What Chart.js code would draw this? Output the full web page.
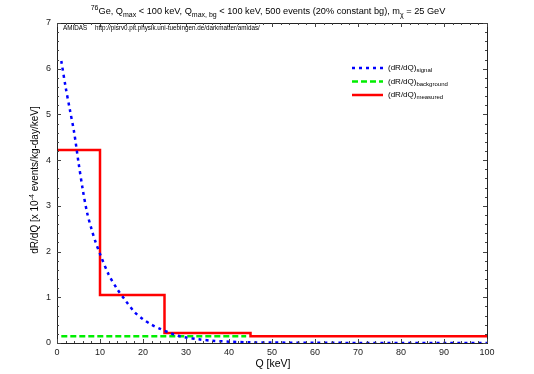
<!DOCTYPE html>
<html>
<head>
<meta charset="utf-8">
<script src="https://cdn.jsdelivr.net/npm/chart.js@4"></script>
<style>
  html, body { margin: 0; padding: 0; background: #fff; }
  canvas { display: block; }
</style>
</head>
<body>
<canvas id="chart" width="534" height="374"></canvas>
<script>
// signal curve (Q in keV, dR/dQ in 1e-4 events/kg-day/keV)
const signalQ = [1, 2, 3, 4, 5, 6, 7, 8, 9, 10, 12, 14, 16, 18, 20, 22, 24, 26, 28, 30, 33, 36, 40, 45, 50, 60, 70, 80, 90, 100];
const signalR = [6.17, 5.6, 5.1, 4.6, 3.95, 3.35, 2.85, 2.5, 2.2, 1.95, 1.5, 1.18, 0.92, 0.68, 0.52, 0.4, 0.31, 0.23, 0.16, 0.12, 0.08, 0.05, 0.03, 0.015, 0.01, 0.005, 0.002, 0.001, 0.0, 0.0];

const backgroundQ = [1, 44];
const backgroundR = [0.15, 0.15];

// measured histogram: bin edges and bin values
const binEdges = [0, 10, 25, 45, 100];
const binValues = [4.22, 1.05, 0.22, 0.15];

const xTicks = [0, 10, 20, 30, 40, 50, 60, 70, 80, 90, 100];
const yTicks = [0, 1, 2, 3, 4, 5, 6, 7];

const FONT = '"Liberation Sans", Arial, Helvetica, sans-serif';

const toPoints = (xs, ys) => xs.map((x, i) => ({ x, y: ys[i] }));

const measuredPoints = binEdges.map((e, i) => ({ x: e, y: i < binValues.length ? binValues[i] : binValues[binValues.length - 1] }));

// draw text with sub/superscripts: parts = [[text, 'n'|'sub'|'sup'], ...]
const drawRich = (ctx, parts, x, y, size, align) => {
  const small = Math.round(size * 0.72);
  let total = 0;
  parts.forEach(([t, k]) => {
    ctx.font = `${k === 'n' ? size : small}px ${FONT}`;
    total += ctx.measureText(t).width;
  });
  let cx = align === 'center' ? x - total / 2 : x;
  ctx.textAlign = 'left';
  ctx.textBaseline = 'alphabetic';
  parts.forEach(([t, k]) => {
    ctx.font = `${k === 'n' ? size : small}px ${FONT}`;
    let dy = 0;
    if (k === 'sub') dy = size * 0.3;
    if (k === 'sup') dy = -size * 0.4;
    ctx.fillText(t, cx, y + dy);
    cx += ctx.measureText(t).width;
  });
};

const framePlugin = {
  id: 'frame',
  afterDraw(chart) {
    const { ctx, chartArea: a, scales } = chart;
    const xs = scales.x;
    const ys = scales.y;
    ctx.save();
    ctx.strokeStyle = '#222';
    ctx.lineWidth = 1;
    ctx.strokeRect(a.left + 0.5, a.top + 0.5, a.right - a.left, a.bottom - a.top);

    ctx.strokeStyle = '#444';
    ctx.beginPath();
    // x ticks, every 2 keV, major every 10
    for (let q = 0; q <= 100; q += 2) {
      const px = Math.round(xs.getPixelForValue(q)) + 0.5;
      const len = q % 10 === 0 ? 4 : 2;
      ctx.moveTo(px, a.bottom); ctx.lineTo(px, a.bottom - len);
      ctx.moveTo(px, a.top); ctx.lineTo(px, a.top + len);
    }
    // y ticks, every 0.2, major every 1
    for (let i = 0; i <= 35; i++) {
      const v = i * 0.2;
      const py = Math.round(ys.getPixelForValue(v)) + 0.5;
      const len = i % 5 === 0 ? 4 : 2;
      ctx.moveTo(a.left, py); ctx.lineTo(a.left + len, py);
      ctx.moveTo(a.right, py); ctx.lineTo(a.right - len, py);
    }
    ctx.stroke();

    ctx.fillStyle = '#000';
    // title
    drawRich(ctx, [['76', 'sup'], ['Ge, Q', 'n'], ['max', 'sub'], [' < 100 keV, Q', 'n'], ['max, bg', 'sub'],
      [' < 100 keV, 500 events (20% constant bg), m', 'n'], ['\u03c7', 'sub'], [' = 25 GeV', 'n']],
      268, 14, 9.2, 'center');

    // AMIDAS note
    ctx.font = `6.3px ${FONT}`;
    ctx.textAlign = 'left';
    ctx.textBaseline = 'alphabetic';
    ctx.fillText('AMIDAS', a.left + 6, a.top + 7);
    ctx.fillText('http://pisrv0.pit.physik.uni-tuebingen.de/darkmatter/amidas/', a.left + 38, a.top + 7);

    // axis titles
    ctx.font = `10.5px ${FONT}`;
    ctx.textAlign = 'center';
    ctx.fillText('Q [keV]', 273, 367);

    ctx.save();
    ctx.translate(38, 180);
    ctx.rotate(-Math.PI / 2);
    drawRich(ctx, [['dR/dQ [x 10', 'n'], ['-4', 'sup'], [' events/kg-day/keV]', 'n']], 0, 0, 10, 'center');
    ctx.restore();

    // legend
    const rows = [
      { sub: 'signal', color: '#0000ff', dash: [3, 4], width: 2.5 },
      { sub: 'background', color: '#00ee00', dash: [6, 3], width: 2.5 },
      { sub: 'measured', color: '#ff0000', dash: [], width: 2.5 },
    ];
    rows.forEach((r, i) => {
      const y = 68 + i * 13.5;
      ctx.beginPath();
      ctx.setLineDash(r.dash);
      ctx.strokeStyle = r.color;
      ctx.lineWidth = r.width;
      ctx.moveTo(352, y); ctx.lineTo(383, y);
      ctx.stroke();
      ctx.setLineDash([]);
      ctx.fillStyle = '#000';
      drawRich(ctx, [['(dR/dQ)', 'n'], [r.sub, 'sub']], 388, y + 2, 8, 'left');
    });
    ctx.restore();
  },
};

new Chart(document.getElementById('chart'), {
  type: 'line',
  data: {
    datasets: [
      {
        label: 'signal',
        data: toPoints(signalQ, signalR),
        borderColor: '#0000ff',
        borderWidth: 2.5,
        borderDash: [3, 4],
        pointRadius: 0,
        tension: 0.3,
        fill: false,
      },
      {
        label: 'background',
        data: toPoints(backgroundQ, backgroundR),
        borderColor: '#00ee00',
        borderWidth: 2.5,
        borderDash: [6, 3],
        pointRadius: 0,
        fill: false,
      },
      {
        label: 'measured',
        data: measuredPoints,
        borderColor: '#ff0000',
        borderWidth: 2.5,
        stepped: true,
        pointRadius: 0,
        fill: false,
      },
    ],
  },
  options: {
    responsive: false,
    animation: false,
    layout: { padding: { top: 23, right: 47, left: 0, bottom: 0 } },
    plugins: { legend: { display: false }, tooltip: { enabled: false } },
    scales: {
      x: {
        type: 'linear',
        min: 0,
        max: 100,
        grid: { display: false, drawTicks: false },
        border: { display: false },
        afterFit: s => { s.height = 31; },
        afterBuildTicks: s => { s.ticks = xTicks.map(v => ({ value: v })); },
        ticks: { color: '#222', font: { family: FONT, size: 9 }, padding: 4, maxRotation: 0 },
      },
      y: {
        type: 'linear',
        min: 0,
        max: 7,
        grid: { display: false, drawTicks: false },
        border: { display: false },
        afterFit: s => { s.width = 57; },
        afterBuildTicks: s => { s.ticks = yTicks.map(v => ({ value: v })); },
        ticks: { color: '#222', font: { family: FONT, size: 9 }, padding: 6 },
      },
    },
  },
  plugins: [framePlugin],
});
</script>
</body>
</html>
